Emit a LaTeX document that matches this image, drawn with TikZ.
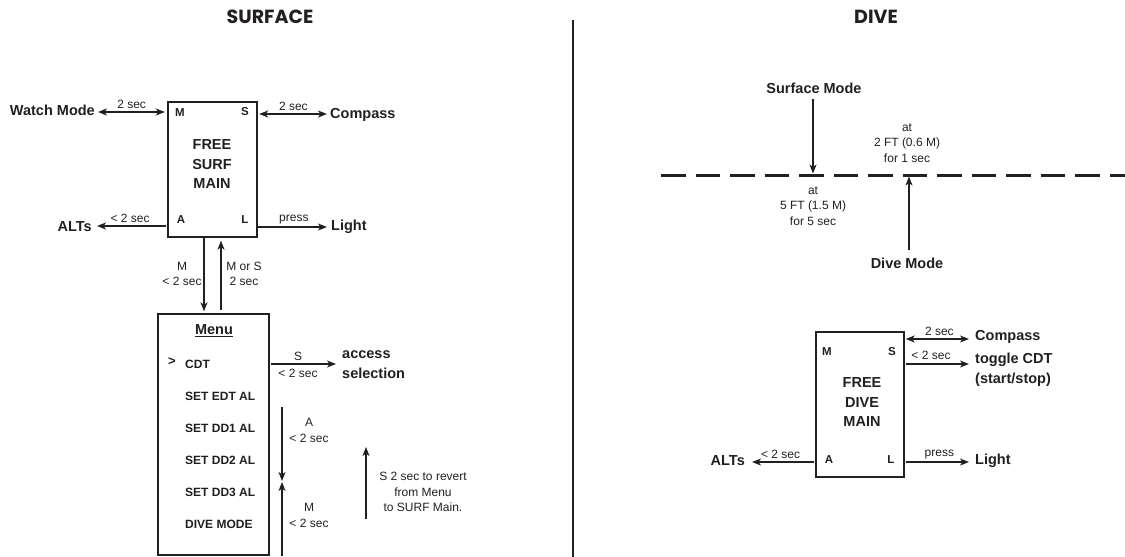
\documentclass[tikz,border=0pt]{standalone}
\usepackage{fontspec}
\setmainfont{Liberation Sans}
\newfontfamily\titlefont{Poppins}
\usetikzlibrary{arrows.meta}
\definecolor{ink}{RGB}{35,31,32}
\tikzset{
  every node/.style={text=ink, inner sep=1pt},
  box/.style={draw=ink, line width=1.4pt, inner sep=0pt},
  big/.style={font=\fontsize{14.5}{19.5}\selectfont\bfseries},
  key/.style={font=\fontsize{11.5}{13}\selectfont\bfseries},
  item/.style={font=\fontsize{12}{14}\selectfont\bfseries, anchor=west},
  small/.style={font=\fontsize{12}{15.5}\selectfont},
  ttl/.style={font=\titlefont\fontsize{19}{22}\selectfont\bfseries},
  arr/.style={draw=ink, line width=1.2pt, -{Stealth[length=9pt,width=7pt,inset=2.5pt]}},
  dbl/.style={draw=ink, line width=1.2pt, {Stealth[length=9pt,width=7pt,inset=2.5pt]}-{Stealth[length=9pt,width=7pt,inset=2.5pt]}},
}
\begin{document}
\begin{tikzpicture}[x=1pt,y=-1pt]
\useasboundingbox (0,0) rectangle (1125,557);

% titles and divider
\node[ttl] (tsurf) at (270,17) {SURFACE};
\node[ttl] (tdive) at (876,17) {DIVE};
\coordinate (dv1) at (573,20);
\coordinate (dv2) at (573,557);
\draw[draw=ink, line width=1.2pt] (dv1) -- (dv2);

% ---------------- SURFACE ----------------
\node[box, minimum width=89pt, minimum height=135pt] (sm) at (212.5,169.5) {};
\node[big, align=center] (smt) at (212,164.5) {FREE\\SURF\\MAIN};
\node[key] (smM) at (180,113) {M};
\node[key] (smS) at (245,112) {S};
\node[key] (smA) at (181,220) {A};
\node[key] (smL) at (245,220) {L};

\node[big, anchor=east] (wm) at (96,110.5) {Watch Mode};
\node[big, anchor=west] (cp) at (329,114.5) {Compass};
\node[big, anchor=east] (alt) at (93,227) {ALTs};
\node[big, anchor=west] (lt) at (330,227) {Light};

\draw[dbl, shorten <=2pt, shorten >=2.5pt] (wm.east |- 0,112) -- (sm.west |- 0,112)
  node[small, midway, above=1.5pt] (l1) {2 sec};
\draw[dbl, shorten <=1.5pt, shorten >=2pt] (sm.east |- 0,114) -- (cp.west |- 0,114)
  node[small, midway, above=1.5pt] (l2) {2 sec};
\draw[arr, shorten <=1pt, shorten >=4pt] (sm.west |- 0,226) -- (alt.east |- 0,226)
  node[small, midway, above=1.5pt] (l3) {< 2 sec};
\draw[arr, shorten >=3pt] (sm.east |- 0,227) -- (lt.west |- 0,227)
  node[small, midway, above=1.5pt] (l4) {press};

% menu box
\node[box, minimum width=111pt, minimum height=241pt] (menu) at (213.5,434.5) {};
\node[font=\fontsize{14.5}{17}\selectfont\bfseries] (mt) at (214,331) {\underline{Menu}};
\node[font=\fontsize{13}{14}\selectfont\bfseries] (gt) at (172,362) {>};
\node[item] (i1) at (184,364) {CDT};
\node[item] (i2) at (184,396) {SET EDT AL};
\node[item] (i3) at (184,428) {SET DD1 AL};
\node[item] (i4) at (184,460) {SET DD2 AL};
\node[item] (i5) at (184,492) {SET DD3 AL};
\node[item] (i6) at (184,524) {DIVE MODE};

\draw[arr, shorten >=2pt] (sm.south -| 204,0) -- (menu.north -| 204,0);
\draw[arr, shorten <=3pt, shorten >=3pt] (menu.north -| 221,0) -- (sm.south -| 221,0);
\node[small, align=center] (lm1) at (182,274) {M\\< 2 sec};
\node[small, align=center] (lm2) at (244,274) {M or S\\2 sec};

\node[big, anchor=west, align=left, font=\fontsize{14.5}{20}\selectfont\bfseries] (acc) at (341,365) {access\\selection};
\draw[arr, shorten <=1.5pt, shorten >=5pt] (menu.east |- 0,364) -- (acc.west |- 0,364);
\node[small] (ls) at (298,356.5) {S};
\node[small] (ls2) at (298,373.5) {< 2 sec};

\coordinate (aa1) at (282,407);
\coordinate (aa2) at (282,481);
\draw[arr] (aa1) -- (aa2);
\node[small, align=center] (la) at (309,430.5) {A\\< 2 sec};
\coordinate (ma1) at (282,556);
\coordinate (ma2) at (282,482);
\draw[arr] (ma1) -- (ma2);
\node[small, align=center] (lma) at (309,515.5) {M\\< 2 sec};
\coordinate (sa1) at (366,519);
\coordinate (sa2) at (366,447);
\draw[arr] (sa1) -- (sa2);
\node[small, align=center] (lsa) at (423,492) {S 2 sec to revert\\from Menu\\to SURF Main.};

% ---------------- DIVE ----------------
\coordinate (dl1) at (661,175);
\coordinate (dl2) at (1125,175);
\draw[draw=ink, line width=3pt, dash pattern=on 24.5pt off 10pt] (dl1) -- (dl2);

\node[big] (sfm) at (814,88) {Surface Mode};
\draw[arr, shorten <=4pt, shorten >=1.5pt] (sfm.south -| 813,0) -- (dl1 -| 813,0);
\node[small, align=center] (t5) at (813,206) {at\\5 FT (1.5 M)\\for 5 sec};

\node[big] (dvm) at (907,263) {Dive Mode};
\draw[arr, shorten <=6pt, shorten >=1.5pt] (dvm.north -| 909,0) -- (dl1 -| 909,0);
\node[small, align=center] (t2) at (907,143) {at\\2 FT (0.6 M)\\for 1 sec};

\node[box, minimum width=88pt, minimum height=145pt] (dm) at (860,404.5) {};
\node[big, align=center] (dmt) at (862,402.5) {FREE\\DIVE\\MAIN};
\node[key] (dmM) at (827,352) {M};
\node[key] (dmS) at (892,352) {S};
\node[key] (dmA) at (829,460) {A};
\node[key] (dmL) at (891,460) {L};

\node[big, anchor=west] (dcp) at (974,337) {Compass};
\node[big, anchor=west, align=left, font=\fontsize{14.5}{20}\selectfont\bfseries] (tg) at (974,370) {toggle CDT\\(start/stop)};
\node[big, anchor=east] (dalt) at (746,461) {ALTs};
\node[big, anchor=west] (dlt) at (974,461) {Light};

\draw[dbl, shorten <=1pt, shorten >=5pt] (dm.east |- 0,339) -- (dcp.west |- 0,339)
  node[small, midway, above=1.5pt] (d1) {2 sec};
\draw[arr, shorten <=1pt, shorten >=5pt] (dm.east |- 0,364) -- (tg.west |- 0,364);
\node[small] (d2) at (931,355) {< 2 sec};
\draw[arr, shorten <=1pt, shorten >=6pt] (dm.west |- 0,462) -- (dalt.east |- 0,462)
  node[small, midway, above=1.5pt] (d3) {< 2 sec};
\draw[arr, shorten <=1pt, shorten >=5pt] (dm.east |- 0,462) -- (dlt.west |- 0,462)
  node[small, midway, above=1.5pt] (d4) {press};
\end{tikzpicture}
\end{document}
